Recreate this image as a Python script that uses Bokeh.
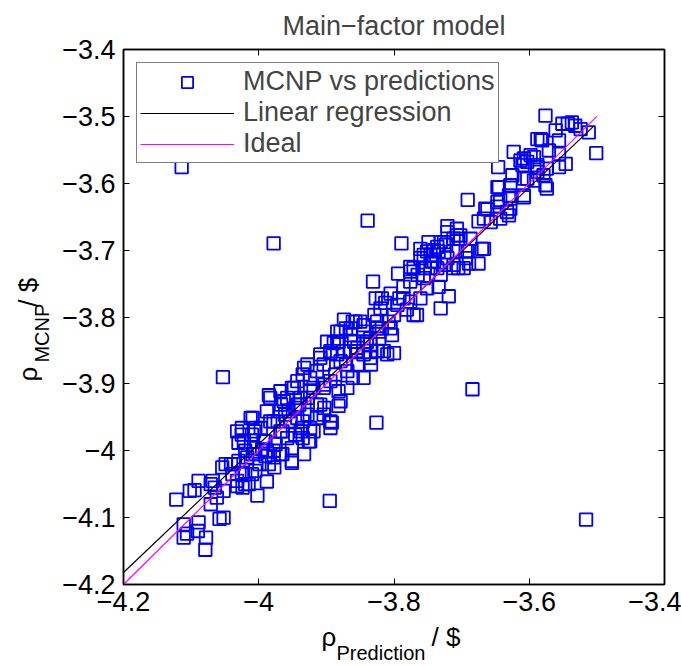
import math
from bokeh.plotting import figure
from bokeh.models import FixedTicker, LinearAxis, Legend, LegendItem
from bokeh.layouts import column, row
from bokeh.core.properties import value
from bokeh.embed import file_html
from bokeh.resources import INLINE

# ---- data ----
pred = [
    -4.114, -3.839, -3.978, -3.789, -4.053, -3.684, -3.826, -3.895, -3.516, -3.501,
    -4.079, -4.078, -4.111, -4.106, -4.090, -4.089, -4.111, -4.058, -4.052, -4.122,
    -4.102, -4.095, -4.089, -4.071, -4.065, -4.071, -4.052, -4.032, -4.024, -4.020,
    -4.002, -3.988, -4.032, -4.054, -4.049, -4.037, -4.030, -4.025, -4.010, -4.005,
    -4.017, -4.005, -3.990, -3.985, -3.978, -3.951, -3.933, -4.030, -4.032, -4.010,
    -3.990, -3.975, -3.951, -3.926, -4.005, -3.965, -3.946, -3.936, -3.995, -3.965,
    -4.020, -4.039,
    -3.985, -4.012, -3.988, -4.007, -3.993, -3.978, -3.968, -3.953, -3.943, -3.963,
    -3.968, -3.948, -3.933, -3.928, -3.914, -3.909, -3.894, -3.884, -3.879, -3.864,
    -3.845, -3.825, -3.815, -3.835, -3.845, -3.869, -3.879, -3.894, -3.894, -3.919,
    -3.978, -4.007, -3.928, -3.914, -3.904, -3.894, -3.919, -3.924, -3.869, -3.854,
    -3.879, -3.899, -3.859, -3.845, -3.835, -3.822, -3.864, -3.845, -3.825, -3.884,
    -3.904, -3.943, -3.958, -3.938, -3.928, -3.904, -3.943, -3.968, -3.983, -3.997,
    -4.022, -3.958, -3.938, -3.924, -3.968,
    -3.831, -3.794, -3.827, -3.805, -3.813, -3.795, -3.820, -3.781, -3.766, -3.874,
    -3.857, -3.884, -3.864, -3.845, -3.825, -3.805, -3.803, -3.822, -3.889, -3.894,
    -3.874, -3.854, -3.835, -3.810, -3.800, -3.909, -3.731, -3.719, -3.734, -3.712,
    -3.726, -3.746, -3.756, -3.776, -3.786, -3.761, -3.751, -3.761, -3.736, -3.726,
    -3.721, -3.707, -3.702, -3.694, -3.697, -3.771, -3.776, -3.736, -3.746, -3.761,
    -3.776, -3.771, -3.800, -3.786, -3.751, -3.731,
    -3.691, -3.647, -3.662, -3.675, -3.721, -3.707, -3.687, -3.667, -3.675, -3.694,
    -3.731, -3.741, -3.756, -3.741, -3.721, -3.707, -3.712, -3.647, -3.647, -3.633,
    -3.643, -3.657, -3.625, -3.628, -3.610, -3.608, -3.623, -3.598, -3.588, -3.579,
    -3.576, -3.608, -3.593, -3.608, -3.588, -3.581, -3.628, -3.667, -3.776,
    -3.576, -3.551, -3.537, -3.532, -3.524, -3.512, -3.561, -3.583, -3.556, -3.571,
    -3.556, -3.613, -3.593, -3.603, -3.546, -3.556, -3.574, -3.588, -3.603, -3.574,
    -3.608, -3.630, -3.645, -3.665, -3.628, -3.630, -3.643, -3.588,
    -3.543, -3.646, -3.689, -3.705, -3.749, -3.892, -3.882,
    -4.025, -4.009, -3.961, -3.946, -3.935, -3.924, -3.914, -3.903, -3.935, -3.988,
    -4.009, -3.999, -4.020, -3.951, -3.977, -4.015, -4.041, -4.068, -4.062,
    -4.025, -3.983, -3.882, -3.871, -3.861, -3.850, -3.829, -3.818, -3.792, -3.765,
    -3.755, -3.744, -3.734, -3.723, -3.712, -3.702, -3.691, -3.670, -3.818, -3.808,
    -3.840, -3.856, -3.871, -3.887, -3.903, -3.924, -3.940, -3.956, -3.972, -3.909,
    -3.882, -3.861, -3.834, -3.824, -3.935, -3.951, -3.967,
]
mcnp = [
    -3.576, -3.656, -3.690, -3.690, -3.890, -3.908, -3.958, -4.075, -4.103, -3.555,
    -4.148, -4.130, -4.130, -4.124, -4.120, -4.107, -4.110, -4.102, -4.100, -4.073,
    -4.060, -4.059, -4.045, -4.050, -4.055, -4.080, -4.060, -4.053, -4.055, -4.050,
    -4.067, -4.046, -4.045, -4.025, -4.020, -4.020, -4.015, -4.033, -4.035, -4.030,
    -4.010, -4.005, -4.008, -4.020, -4.010, -4.018, -4.005, -3.988, -3.971, -3.976,
    -3.986, -3.990, -3.996, -3.986, -3.966, -3.971, -3.976, -3.966, -3.998, -4.005,
    -4.000, -4.035,
    -3.917, -3.951, -3.941, -3.971, -3.986, -3.956, -3.971, -3.956, -3.931, -3.926,
    -3.911, -3.906, -3.876, -3.871, -3.881, -3.861, -3.851, -3.837, -3.822, -3.817,
    -3.812, -3.817, -3.851, -3.861, -3.891, -3.906, -3.926, -3.956, -3.966, -3.971,
    -4.000, -3.996, -3.946, -3.931, -3.906, -3.896, -3.906, -3.891, -3.881, -3.871,
    -3.866, -3.837, -3.837, -3.837, -3.832, -3.822, -3.851, -3.856, -3.851, -3.856,
    -3.871, -3.896, -3.921, -3.921, -3.921, -3.946, -3.951, -3.941, -3.956, -3.966,
    -3.986, -3.981, -3.971, -3.986, -4.005,
    -3.747, -3.735, -3.772, -3.765, -3.779, -3.782, -3.787, -3.789, -3.797, -3.804,
    -3.807, -3.822, -3.827, -3.822, -3.807, -3.817, -3.827, -3.832, -3.839, -3.854,
    -3.851, -3.846, -3.841, -3.856, -3.854, -3.856, -3.787, -3.769, -3.755, -3.727,
    -3.722, -3.727, -3.742, -3.747, -3.755, -3.712, -3.702, -3.698, -3.695, -3.688,
    -3.673, -3.668, -3.683, -3.702, -3.727, -3.727, -3.732, -3.727, -3.707, -3.772,
    -3.777, -3.797, -3.797, -3.772, -3.757, -3.737,
    -3.625, -3.606, -3.639, -3.657, -3.664, -3.678, -3.683, -3.698, -3.720, -3.712,
    -3.688, -3.700, -3.707, -3.717, -3.712, -3.702, -3.722, -3.635, -3.628, -3.643,
    -3.653, -3.658, -3.588, -3.603, -3.573, -3.563, -3.553, -3.558, -3.573, -3.588,
    -3.603, -3.593, -3.596, -3.618, -3.534, -3.536, -3.623, -3.653, -3.725,
    -3.499, -3.511, -3.509, -3.514, -3.519, -3.524, -3.521, -3.534, -3.536, -3.551,
    -3.556, -3.566, -3.561, -3.568, -3.571, -3.576, -3.578, -3.583, -3.593, -3.608,
    -3.621, -3.618, -3.606, -3.638, -3.638, -3.648, -3.625, -3.576,
    -3.511, -3.576, -3.720, -3.727, -3.688, -3.958, -3.933,
    -3.976, -3.951, -3.946, -3.936, -3.956, -3.966, -3.951, -3.936, -3.981, -4.000,
    -4.005, -4.020, -4.035, -4.015, -4.025, -4.050, -4.020, -4.045, -4.070,
    -3.966, -3.921, -3.837, -3.817, -3.807, -3.807, -3.797, -3.772, -3.772, -3.737,
    -3.727, -3.717, -3.702, -3.692, -3.683, -3.678, -3.702, -3.698, -3.817, -3.807,
    -3.837, -3.851, -3.871, -3.886, -3.901, -3.911, -3.931, -3.941, -3.956, -3.931,
    -3.911, -3.891, -3.871, -3.851, -3.886, -3.906, -3.931,
]
reg_x = [-4.2, -3.505]
reg_y = [-4.182, -3.515]
ideal_x = [-4.2, -3.5]
ideal_y = [-4.2, -3.5]

x_ticks = [-4.2, -4.0, -3.8, -3.6, -3.4]
x_tick_labels = ["\u22124.2", "\u22124", "\u22123.8", "\u22123.6", "\u22123.4"]
y_ticks = [-4.2, -4.1, -4.0, -3.9, -3.8, -3.7, -3.6, -3.5, -3.4]
y_tick_labels = ["\u22124.2", "\u22124.1", "\u22124", "\u22123.9", "\u22123.8",
                 "\u22123.7", "\u22123.6", "\u22123.5", "\u22123.4"]

title_text = "Main\u2212factor model"
legend_labels = ["MCNP vs predictions", "Linear regression", "Ideal"]
xlabel_parts = ["\u03c1", "Prediction", "/ $"]
ylabel_parts = ["\u03c1", "MCNP", "/ $"]

FONT = "Liberation Sans"

# ---------------- main axes ----------------
p = figure(width=623, height=622, x_range=(-4.2, -3.4), y_range=(-4.2, -3.4),
           output_backend="svg", toolbar_location=None,
           min_border_left=65, min_border_right=17, min_border_top=47, min_border_bottom=38,
           title=title_text)
p.title.align = "center"
p.title.text_font = FONT
p.title.text_font_size = "27px"
p.title.text_font_style = "normal"
p.title.standoff = 17

p.xgrid.visible = False
p.ygrid.visible = False
p.outline_line_color = "black"
p.outline_line_width = 1.5
p.background_fill_color = "white"
p.border_fill_color = "white"

def style_axis(ax, ticks, labels, show_labels, standoff=8):
    ax.ticker = FixedTicker(ticks=ticks)
    ax.major_tick_in = 6
    ax.major_tick_out = 0
    ax.minor_tick_line_color = None
    ax.axis_line_color = "black"
    ax.axis_line_width = 1.5
    ax.major_tick_line_width = 1
    if show_labels:
        ax.major_label_overrides = {t: l for t, l in zip(ticks, labels)}
        ax.major_label_text_font = FONT
        ax.major_label_text_font_size = "27px"
        ax.major_label_text_color = "black"
        ax.major_label_standoff = standoff
    else:
        ax.major_label_text_color = None
        ax.major_label_standoff = 0

style_axis(p.xaxis[0], x_ticks, x_tick_labels, True, standoff=7)
style_axis(p.yaxis[0], y_ticks, y_tick_labels, True, standoff=8)
top_ax = LinearAxis()
style_axis(top_ax, x_ticks, x_tick_labels, False)
p.add_layout(top_ax, "above")
right_ax = LinearAxis()
style_axis(right_ax, y_ticks, y_tick_labels, False)
p.add_layout(right_ax, "right")

sc = p.scatter(pred, mcnp, marker="square", size=12.5, line_color="#0000ff",
               fill_color=None, line_width=1.8)
lr = p.line(reg_x, reg_y, line_color="black", line_width=1.2)
li = p.line(ideal_x, ideal_y, line_color="#ff00ff", line_width=1.2)

legend = Legend(items=[LegendItem(label=legend_labels[0], renderers=[sc]),
                       LegendItem(label=legend_labels[1], renderers=[lr]),
                       LegendItem(label=legend_labels[2], renderers=[li])],
                location="top_left", margin=13, padding=3, spacing=-1,
                glyph_height=28, glyph_width=94, label_height=28, label_standoff=9,
                label_text_font=FONT, label_text_font_size="27px",
                border_line_color="black", border_line_width=1.5,
                background_fill_color="white", background_fill_alpha=1)
p.add_layout(legend)

# ---------------- axis-label strips (text with subscripts) ----------------
def strip(w, h):
    f = figure(width=w, height=h, x_range=(0, w), y_range=(0, h),
               x_axis_type=None, y_axis_type=None, min_border=0,
               toolbar_location=None, output_backend="svg")
    f.outline_line_color = None
    f.background_fill_color = "white"
    f.border_fill_color = "white"
    f.xgrid.visible = False
    f.ygrid.visible = False
    return f

def put(f, x, y, text, size, angle=0.0):
    f.text(x=[x], y=[y], text=[text], text_font=value(FONT), text_font_size=value(size),
           text_baseline="alphabetic", text_align="left", angle=angle, text_color="black")

# x label strip: 681 x 45 (below the main axes)
xl = strip(681, 45)
put(xl, 321, 31, xlabel_parts[0], "26px")
put(xl, 336, 15, xlabel_parts[1], "20px")
put(xl, 431, 31, xlabel_parts[2], "26px")

# y label strip: 58 x 622 (left of the main axes), text rotated
yl = strip(58, 622)
put(yl, 27, 236, ylabel_parts[0], "26px", math.pi / 2)
put(yl, 41, 258, ylabel_parts[1], "20px", math.pi / 2)
put(yl, 27, 323, ylabel_parts[2], "26px", math.pi / 2)

layout = column(row(yl, p), xl)
open("out.html", "w").write(file_html(layout, INLINE))
